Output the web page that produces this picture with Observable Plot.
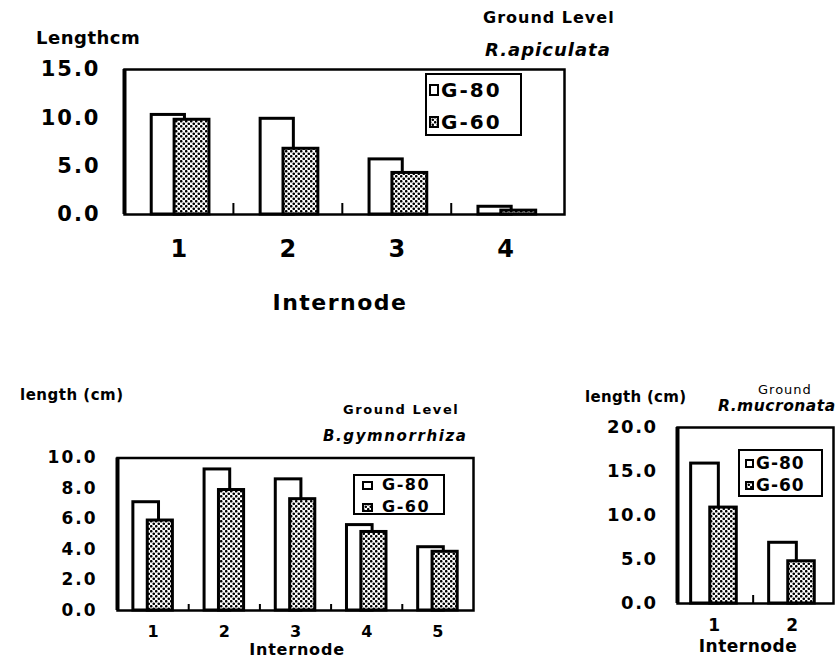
<!DOCTYPE html>
<html><head><meta charset="utf-8">
<script src="https://cdn.jsdelivr.net/npm/d3@7"></script>
<script src="https://cdn.jsdelivr.net/npm/@observablehq/plot@0.6"></script>
<style>
body{margin:0;background:#fff;}
#page{position:relative;width:838px;height:661px;overflow:hidden;font-family:"DejaVu Sans",sans-serif;color:#000;background:#fff;}
.abs{position:absolute;white-space:nowrap;line-height:1;}
.legend{position:absolute;border:2px solid #000;box-sizing:border-box;background:#fff;}
.chart{position:absolute;}
</style></head><body><div id="page"></div>
<script>
// ---------- data ----------
const seriesNames = ["G-80", "G-60"];

const apiculataInternodes = [1, 2, 3, 4];
const apiculataG80 = [10.3, 9.9, 5.7, 0.8];
const apiculataG60 = [9.8, 6.8, 4.3, 0.4];
const apiculataYTicks = [0, 5, 10, 15];

const gymnoInternodes = [1, 2, 3, 4, 5];
const gymnoG80 = [7.1, 9.25, 8.6, 5.6, 4.15];
const gymnoG60 = [5.9, 7.9, 7.3, 5.15, 3.85];
const gymnoYTicks = [0, 2, 4, 6, 8, 10];

const mucronataInternodes = [1, 2];
const mucronataG80 = [15.9, 6.9];
const mucronataG60 = [10.9, 4.8];
const mucronataYTicks = [0, 5, 10, 15, 20];

// ---------- helpers ----------
const page = document.getElementById("page");
const NS = "http://www.w3.org/2000/svg";

function patternMarkup(id) {
  return `<pattern id="${id}" patternUnits="userSpaceOnUse" width="5" height="5">
    <rect width="5" height="5" fill="white"/>
    <circle cx="1.25" cy="1.25" r="1.3" fill="black"/>
    <circle cx="3.75" cy="3.75" r="1.3" fill="black"/>
  </pattern>`;
}

function addText(str, o) {
  const d = document.createElement("div");
  d.className = "abs";
  d.textContent = str;
  d.style.fontSize = o.size + "px";
  d.style.fontWeight = o.weight || "bold";
  if (o.italic) d.style.fontStyle = "italic";
  if (o.spacing) d.style.letterSpacing = o.spacing + "px";
  const tx = o.anchor === "middle" ? "-50%" : (o.anchor === "end" ? "-100%" : "0");
  d.style.left = o.x + "px";
  d.style.top = o.y + "px";
  d.style.transform = `translate(${tx}, -50%)`;
  page.appendChild(d);
}

function addLegend(o) {
  const box = document.createElement("div");
  box.className = "legend";
  Object.assign(box.style, {left: o.left + "px", top: o.top + "px", width: o.width + "px", height: o.height + "px"});
  page.appendChild(box);
  seriesNames.forEach((name, i) => {
    const cy = o.rows[i] - o.top - 2;
    const sw = document.createElementNS(NS, "svg");
    sw.setAttribute("width", o.sw);
    sw.setAttribute("height", o.sh);
    sw.style.position = "absolute";
    sw.style.left = (o.swLeft - o.left - 2) + "px";
    sw.style.top = (cy - o.sh / 2) + "px";
    const pid = o.id + "-sw" + i;
    sw.innerHTML = `<defs>${patternMarkup(pid)}</defs>` +
      `<rect x="1" y="1" width="${o.sw - 2}" height="${o.sh - 2}" fill="${name === "G-60" ? `url(#${pid})` : "white"}" stroke="black" stroke-width="2"/>`;
    box.appendChild(sw);
    const t = document.createElement("div");
    t.className = "abs";
    t.textContent = name;
    t.style.fontSize = o.size + "px";
    t.style.fontWeight = "bold";
    t.style.letterSpacing = (o.spacing || 0) + "px";
    t.style.left = (o.textLeft - o.left - 2) + "px";
    t.style.top = cy + "px";
    t.style.transform = "translate(0,-50%)";
    box.appendChild(t);
  });
}

function drawChart(c) {
  const rows = [];
  c.internodes.forEach((n, i) => {
    rows.push({internode: n, series: "G-80", value: c.g80[i]});
    rows.push({internode: n, series: "G-60", value: c.g60[i]});
  });
  const innerH = c.height - c.marginTop - c.marginBottom;
  const unitPx = innerH / (c.yDomain[1] - c.yDomain[0]);
  const sepLen = c.sepPx / unitPx;
  const seps = c.internodes.slice(1).map(n => n - 0.5);
  const patId = "dots-" + c.id;
  const off = c.offsets;
  const fmt = d3.format(".1f");
  const svg = Plot.plot({
    width: c.width,
    height: c.height,
    marginLeft: c.marginLeft,
    marginRight: c.marginRight,
    marginTop: c.marginTop,
    marginBottom: c.marginBottom,
    style: "font-family:'DejaVu Sans',sans-serif;background:transparent;overflow:visible;color:black;",
    x: {type: "linear", domain: c.xDomain},
    y: {type: "linear", domain: c.yDomain},
    marks: [
      Plot.rect(rows.filter(r => r.series === "G-80"), {
        x1: d => d.internode + off["G-80"][0], x2: d => d.internode + off["G-80"][1],
        y1: d => 0, y2: "value", fill: "white", stroke: "black", strokeWidth: c.barStroke
      }),
      Plot.rect(rows.filter(r => r.series === "G-60"), {
        x1: d => d.internode + off["G-60"][0], x2: d => d.internode + off["G-60"][1],
        y1: d => 0, y2: "value", fill: `url(#${patId})`, stroke: "black", strokeWidth: c.barStroke
      }),
      Plot.ruleX(seps, {x: d => d, y1: d => 0, y2: d => sepLen, stroke: "black", strokeWidth: 2}),
      Plot.frame({stroke: "black", strokeWidth: c.frameStroke}),
      Plot.ruleX([c.xDomain[0]], {stroke: "black", strokeWidth: c.leftStroke}),
      Plot.axisY({ticks: c.yTicks, tickFormat: fmt, tickSize: 0, tickPadding: c.yPad,
        fontSize: c.yFont, fontWeight: "bold", label: null}),
      Plot.axisX({ticks: c.internodes, tickFormat: d => String(d), tickSize: 0, tickPadding: c.xPad,
        fontSize: c.xFont, fontWeight: "bold", label: null})
    ]
  });
  const defs = document.createElementNS(NS, "defs");
  defs.innerHTML = patternMarkup(patId);
  svg.insertBefore(defs, svg.firstChild);
  d3.select(svg).selectAll('[aria-label="y-axis tick label"] text').style("letter-spacing", c.ySpacing + "px");
  const wrap = document.createElement("div");
  wrap.className = "chart";
  wrap.style.left = c.left + "px";
  wrap.style.top = c.top + "px";
  wrap.appendChild(svg);
  page.appendChild(wrap);
}

// ---------- chart 1 : R.apiculata ----------
drawChart({
  id: "api", left: 0, top: 40, width: 600, height: 230,
  marginLeft: 124, marginRight: 36, marginTop: 29, marginBottom: 56,
  internodes: apiculataInternodes, g80: apiculataG80, g60: apiculataG60,
  xDomain: [0.5, 4.54], yDomain: [0, 15], yTicks: apiculataYTicks,
  offsets: {"G-80": [-0.25, 0.055], "G-60": [-0.04, 0.28]},
  barStroke: 3, frameStroke: 2.5, leftStroke: 4, sepPx: 11,
  yPad: 24, yFont: 21, ySpacing: 2, xPad: 25, xFont: 24
});
addText("Lengthcm", {x: 36, y: 38, size: 18, spacing: 0.5});
addText("Ground Level", {x: 483, y: 18, size: 16, spacing: 1});
addText("R.apiculata", {x: 485, y: 50, size: 18, italic: true, spacing: 1});
addText("Internode", {x: 340, y: 303, size: 22, anchor: "middle", spacing: 1.5});
addLegend({id: "lg1", left: 425, top: 73, width: 97, height: 63, rows: [90, 122],
  swLeft: 429, sw: 10, sh: 12, textLeft: 441, size: 20, spacing: 2});

// ---------- chart 2 : B.gymnorrhiza ----------
drawChart({
  id: "gym", left: 0, top: 440, width: 500, height: 220,
  marginLeft: 117, marginRight: 27, marginTop: 17.5, marginBottom: 50,
  internodes: gymnoInternodes, g80: gymnoG80, g60: gymnoG60,
  xDomain: [0.5, 5.5], yDomain: [0, 10], yTicks: gymnoYTicks,
  offsets: {"G-80": [-0.277, 0.083], "G-60": [-0.075, 0.278]},
  barStroke: 3, frameStroke: 2.5, leftStroke: 4, sepPx: 6,
  yPad: 20, yFont: 17, ySpacing: 2, xPad: 15, xFont: 16
});
addText("length (cm)", {x: 20, y: 395, size: 15, spacing: 0.5});
addText("Ground Level", {x: 343, y: 409, size: 13, spacing: 1.6});
addText("B.gymnorrhiza", {x: 323, y: 436, size: 15, italic: true, spacing: 1.6});
addText("Internode", {x: 297, y: 650, size: 16, anchor: "middle", spacing: 0.8});
addLegend({id: "lg2", left: 353, top: 474, width: 92, height: 41, rows: [485, 507],
  swLeft: 362, sw: 11, sh: 9, textLeft: 382, size: 16, spacing: 1.5});

// ---------- chart 3 : R.mucronata ----------
drawChart({
  id: "muc", left: 560, top: 410, width: 278, height: 240,
  marginLeft: 117, marginRight: 5, marginTop: 17, marginBottom: 47,
  internodes: mucronataInternodes, g80: mucronataG80, g60: mucronataG60,
  xDomain: [0.53, 2.53], yDomain: [0, 20], yTicks: mucronataYTicks,
  offsets: {"G-80": [-0.295, 0.06], "G-60": [-0.05, 0.29]},
  barStroke: 3, frameStroke: 2.5, leftStroke: 4, sepPx: 8,
  yPad: 20, yFont: 18, ySpacing: 1.5, xPad: 15, xFont: 17
});
addText("length (cm)", {x: 585, y: 397, size: 15, spacing: 0.3});
addText("Ground", {x: 758, y: 389, size: 13, weight: "normal", spacing: 1});
addText("R.mucronata", {x: 718, y: 407, size: 15.5, italic: true, spacing: 0.5});
addText("Internode", {x: 748, y: 646, size: 17, anchor: "middle", spacing: 0.5});
addLegend({id: "lg3", left: 738, top: 449, width: 85, height: 48, rows: [463, 485],
  swLeft: 745, sw: 9, sh: 9, textLeft: 756, size: 17, spacing: 1});
</script></body></html>
